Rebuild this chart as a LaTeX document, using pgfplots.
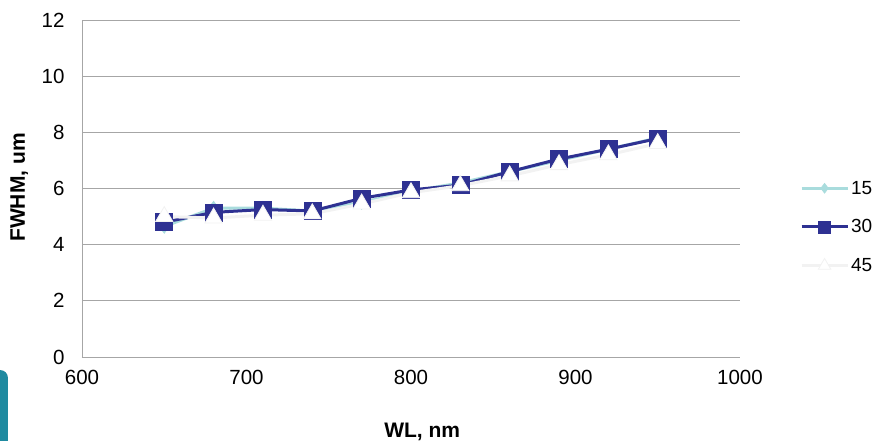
\documentclass[border=0pt]{standalone}
\usepackage{fontspec}
\setmainfont{Liberation Sans}
\usepackage{pgfplots}
\pgfplotsset{compat=1.18}
\definecolor{c15}{HTML}{A9DCDD}
\definecolor{c30}{HTML}{2E3192}
\definecolor{c45}{HTML}{F2F2F2}
\definecolor{gridc}{HTML}{A6A6A6}
\definecolor{slide}{HTML}{1F8AA0}

\begin{document}
\begin{tikzpicture}[x=1pt,y=1pt]
\useasboundingbox (-82,-83) rectangle (805,357);
% slide decoration at the lower left
\fill[slide,rounded corners=8pt] (-100,-100) rectangle (-74,-13);
\begin{axis}[
  at={(0,0)}, anchor=origin,
  scale only axis,
  width=658pt, height=337pt,
  xmin=600, xmax=1000,
  ymin=0, ymax=12,
  xtick={600,700,...,1000},
  ytick={0,2,...,12},
  axis x line*=bottom, axis y line*=left,
  axis line style={gridc, line width=0.8pt, -},
  ymajorgrids,
  grid style={gridc, line width=0.8pt},
  major tick length=0pt,
  tick label style={font=\fontsize{20.5pt}{24pt}\selectfont},
  /pgf/number format/assume math mode=true,
  /pgf/number format/1000 sep={},
  xticklabel style={yshift=-10pt},
  yticklabel style={xshift=-14pt},
  xlabel={\bfseries WL, nm},
  ylabel={\bfseries FWHM, um},
  label style={font=\fontsize{21pt}{24pt}\selectfont},
  xlabel style={at={(axis description cs:0.517,0)}, anchor=base, yshift=-80pt},
  ylabel style={at={(axis description cs:0,0.503)}, anchor=base, yshift=57pt},
  legend style={at={(rel axis cs:1.091,0.386)}, anchor=west, draw=none, fill=none,
    font=\fontsize{19pt}{22pt}\selectfont, row sep=20pt,
    inner sep=0pt, cells={anchor=west}},
  legend image code/.code={%
    \draw[mark repeat=2,mark phase=2,every mark/.append style={scale=0.72}]
      plot coordinates {(0pt,0pt) (23pt,0pt) (46pt,0pt)};},
  clip=false,
]
\addplot[c15, line width=3pt, mark=diamond*, mark size=7pt,
  mark options={fill=c15, draw=c15, line width=0.5pt}]
  coordinates {(650,4.65)(680,5.3)(710,5.3)(740,5.2)(770,5.5)(800,5.9)
               (830,6.2)(860,6.6)(890,7.0)(920,7.4)(950,7.8)};
\addlegendentry{15}
\addplot[c30, line width=3pt, mark=square*, mark size=8.5pt,
  mark options={fill=c30, draw=c30, line width=0.5pt}]
  coordinates {(650,4.8)(680,5.15)(710,5.25)(740,5.2)(770,5.65)(800,5.95)
               (830,6.12)(860,6.6)(890,7.05)(920,7.4)(950,7.78)};
\addlegendentry{30}
\addplot[c45, line width=3pt, mark=triangle*, mark size=10pt,
  mark options={fill=white, draw=c45, line width=0.8pt}]
  coordinates {(650,5.0)(680,4.95)(710,5.05)(740,5.1)(770,5.45)(800,5.85)
               (830,6.1)(860,6.45)(890,6.85)(920,7.2)(950,7.6)};
\addlegendentry{45}
\end{axis}
\end{tikzpicture}
\end{document}
